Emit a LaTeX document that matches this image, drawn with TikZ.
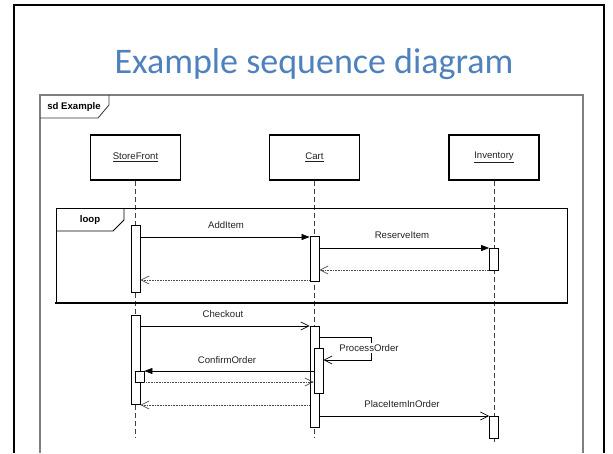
\documentclass[tikz,border=0pt]{standalone}
\usepackage{fontspec}
\setmainfont{Liberation Sans}
\newfontfamily\titlefont{Carlito}
\usetikzlibrary{arrows.meta}
\definecolor{titleblue}{HTML}{4F81BD}
\definecolor{framegray}{HTML}{7F7F7F}
\definecolor{txt}{HTML}{222222}

\tikzset{
  lbl/.style={font=\fontsize{9.6}{11}\selectfont, text=txt, inner sep=1pt},
  framelbl/.style={font=\fontsize{9.6}{11}\selectfont\bfseries, text=black, inner sep=0pt},
  head/.style={draw=black, line width=1.1pt, fill=white, minimum width=90pt, minimum height=45pt,
               inner sep=0pt, font=\fontsize{9.6}{11}\selectfont, text=txt},
  act/.style={draw=black, line width=0.8pt, fill=white, minimum width=9pt, inner sep=0pt},
  lifeline/.style={draw=black!75, line width=0.8pt, dash pattern=on 5pt off 3pt},
  call/.style={draw=black, line width=0.7pt, -{Triangle[length=8pt,width=6pt]}},
  callopen/.style={draw=black, line width=0.7pt, -{Straight Barb[length=8pt,width=8pt]}},
  reply/.style={draw=black!70, line width=0.7pt, dash pattern=on 1pt off 0.6pt,
                -{Straight Barb[length=8pt,width=8pt,line width=0.7pt]}},
}

\begin{document}
\begin{tikzpicture}[x=1pt, y=-1pt]
\useasboundingbox (0,0) rectangle (613,453);

% slide frame
\draw[line width=2pt] (14,453) -- (14,5) -- (604,5) -- (604,453);

% title
\node[font=\fontsize{36}{40}\selectfont\titlefont, text=titleblue, anchor=base]
  (title) at (314,73) {Example sequence diagram};

% sd frame and its tag
\draw[framegray, line width=1.2pt] (40,453) -- (40,95) -- (583,95) -- (583,453);
\draw[black!80, line width=0.8pt] (40,118) -- (98,118) -- (109,105) -- (109,95);
\node[framelbl] (sdtag) at (74,107) {sd Example};

% lifeline heads
\node[head] (sf)  at (135.5,157.5) {\underline{StoreFront}};
\node[head] (crt) at (314.5,157.5) {\underline{Cart}};
\node[head] (inv) at (494,157.5)   {\underline{Inventory}};

% lifeline ends
\coordinate (sfEnd)  at (135.5,437);
\coordinate (crtEnd) at (314.5,437);
\coordinate (invEnd) at (494,443);

\draw[lifeline] (sf.south)  -- (sfEnd);
\draw[lifeline] (crt.south) -- (crtEnd);
\draw[lifeline] (inv.south) -- (invEnd);

% loop fragment
\draw[black, line width=0.8pt] (56,303) -- (56,208) -- (567,208) -- (567,303);
\draw[black, line width=2pt] (55,303) -- (568,303);
\draw[black, line width=0.8pt] (56,231) -- (113,231) -- (124,220) -- (124,208);
\node[framelbl] (looptag) at (90,220) {loop};

% activations
\node[act, minimum height=67pt] (sfA1)  at (135.5,258.5) {};
\node[act, minimum height=45pt] (crtA1) at (314.5,258.5) {};
\node[act, minimum height=22pt] (invA1) at (494,259)     {};
\node[act, minimum height=89pt] (sfA2)  at (135.5,359.5) {};
\node[act, minimum height=101pt] (crtA2) at (314.5,376.5) {};
\node[act, minimum height=45pt] (crtA3) at (318.5,370.5) {};
\node[act, minimum height=11pt] (sfA3)  at (139.5,376.5) {};
\node[act, minimum height=22pt] (invA2) at (494,427)     {};

% message rows
\coordinate (yAdd)     at (0,237);
\coordinate (yRes)     at (0,248);
\coordinate (yResR)    at (0,270);
\coordinate (yAddR)    at (0,280);
\coordinate (yChk)     at (0,326);
\coordinate (yPo1)     at (0,337);
\coordinate (yPo2)     at (0,360);
\coordinate (yConf)    at (0,371);
\coordinate (yConfR)   at (0,382);
\coordinate (yChkR)    at (0,405);
\coordinate (yPlace)   at (0,416);
\coordinate (selfR)    at (371,0);

% loop messages
\draw[call]  (sfA1.east |- yAdd)   -- (crtA1.west |- yAdd);
\draw[call]  (crtA1.east |- yRes)  -- (invA1.west |- yRes);
\draw[reply] (invA1.west |- yResR) -- (crtA1.east |- yResR);
\draw[reply] (crtA1.west |- yAddR) -- (sfA1.east |- yAddR);

% checkout messages
\draw[callopen] (sfA2.east |- yChk) -- (crtA2.west |- yChk);
\draw[callopen] (crtA2.east |- yPo1) -- (selfR |- yPo1) -- (selfR |- yPo2) -- (crtA3.east |- yPo2);
\draw[call]  (crtA3.west |- yConf)  -- (sfA3.east |- yConf);
\draw[reply] (sfA3.east |- yConfR)  -- (crtA3.west |- yConfR);
\draw[reply] (crtA2.west |- yChkR)  -- (sfA2.east |- yChkR);
\draw[callopen] (crtA2.east |- yPlace) -- (invA2.west |- yPlace);

% message labels
\node[lbl] (lAdd)   at (226,225) {AddItem};
\node[lbl] (lRes)   at (402,235) {ReserveItem};
\node[lbl] (lChk)   at (223,314) {Checkout};
\node[lbl, fill=white] (lPo) at (369,348) {ProcessOrder};
\node[lbl] (lConf)  at (227,360) {ConfirmOrder};
\node[lbl] (lPlace) at (402,404) {PlaceItemInOrder};
\end{tikzpicture}
\end{document}
